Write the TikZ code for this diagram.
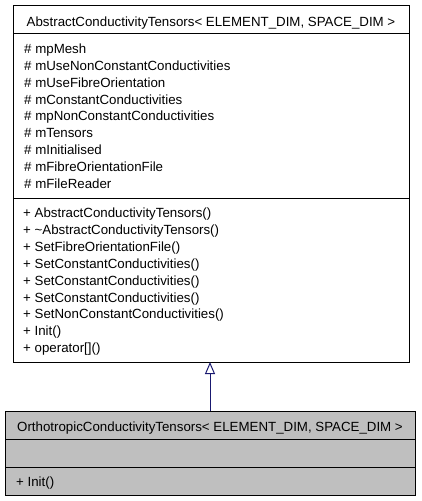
\documentclass[tikz,border=0pt]{standalone}
\usepackage{fontspec}
\setmainfont{Liberation Sans}
\usetikzlibrary{arrows.meta}
\begin{document}
\begin{tikzpicture}[x=1pt,y=-1pt,
  boxline/.style={draw=black,line width=1pt},
  txt/.style={inner sep=0pt,anchor=base west,font=\fontsize{13.3}{16}\selectfont},
  hdr/.style={inner sep=0pt,anchor=base,font=\fontsize{13.3}{16}\selectfont},
  inherit/.style={draw={rgb,255:red,25;green,25;blue,112},line width=1pt,-{Triangle[open,width=10pt,length=12pt]}}]
\useasboundingbox (0,0) rectangle (421,501);
% top class
\draw[boxline,fill=white] (13,5) rectangle (409,362);
\draw[boxline] (13,33) -- (409,33);
\draw[boxline] (13,198) -- (409,198);
\node[hdr] (ah) at (211,26.7) {AbstractConductivityTensors< ELEMENT\_DIM, SPACE\_DIM >};
\foreach \t [count=\i from 0] in {\# mpMesh,\# mUseNonConstantConductivities,\# mUseFibreOrientation,\# mConstantConductivities,\# mpNonConstantConductivities,\# mTensors,\# mInitialised,\# mFibreOrientationFile,\# mFileReader}
  \node[txt] (aa\i) at (24,53.3+16.9*\i) {\t};
\foreach \t [count=\i from 0] in {+ AbstractConductivityTensors(),+ \textasciitilde AbstractConductivityTensors(),+ SetFibreOrientationFile(),+ SetConstantConductivities(),+ SetConstantConductivities(),+ SetConstantConductivities(),+ SetNonConstantConductivities(),+ Init(),+ operator[]()}
  \node[txt] (ao\i) at (23,217.5+16.9*\i) {\t};
\coordinate (atop) at (210,362);
% bottom class
\draw[boxline,fill={rgb,255:red,191;green,191;blue,191}] (5,411) rectangle (415,495);
\draw[boxline] (5,439) -- (415,439);
\draw[boxline] (5,467) -- (415,467);
\node[hdr] (oh) at (210,431.7) {OrthotropicConductivityTensors< ELEMENT\_DIM, SPACE\_DIM >};
\node[txt] (oo0) at (16,486.7) {+ Init()};
\coordinate (btop) at (210,411);
\draw[inherit] (btop) -- (atop);
\end{tikzpicture}
\end{document}
